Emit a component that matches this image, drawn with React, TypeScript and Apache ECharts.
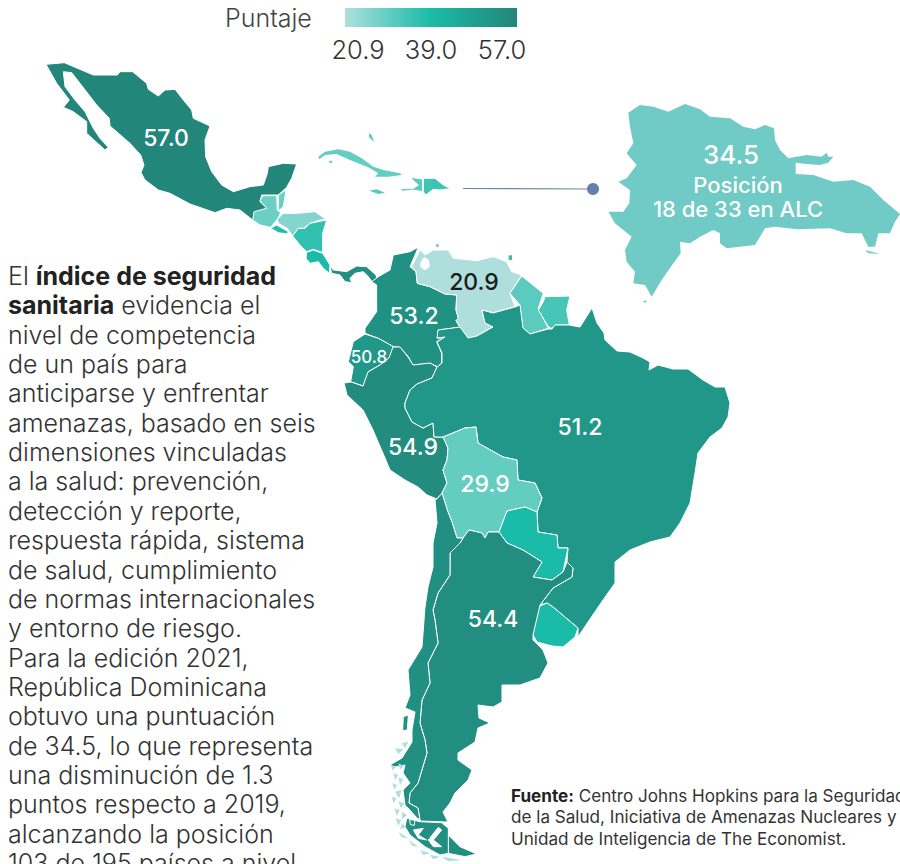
import React, { useEffect, useRef } from "react";
import * as echarts from "echarts";

type P = number[][];
// zoom-crop coordinates (3x) to page pixels
const z = (ox: number, oy: number, pts: P): P => pts.map(([x, y]) => [ox + x / 3, oy + y / 3]);

const MEXICO = z(30, 50, [[48,43],[103,38],[190,75],[262,75],[270,65],[308,65],[350,100],[355,118],[385,138],[405,120],[435,118],[460,150],[485,180],[490,205],[540,228],[525,270],[527,320],[545,365],[575,405],[610,425],[660,410],[700,405],[712,370],[715,350],[760,340],[800,342],[785,385],[770,412],[745,435],[695,435],[690,455],[712,475],[668,510],[630,480],[590,475],[555,488],[480,462],[420,430],[385,420],[345,390],[333,368],[342,345],[332,315],[300,280],[240,228],[238,205],[200,165],[150,100],[125,68],[100,65],[105,110],[135,150],[165,185],[190,235],[210,265],[235,292],[225,300],[170,250],[170,215],[130,185],[100,172],[118,150],[80,100]]);
const GUATEMALA = z(250, 130, [[38,197],[80,197],[82,240],[92,248],[82,268],[62,292],[30,285],[8,270],[12,245],[50,235],[30,212]]);
const BELIZE = z(250, 130, [[85,195],[108,180],[105,200],[100,230],[85,243]]);
const HONDURAS = z(250, 130, [[82,268],[100,250],[140,250],[195,245],[228,268],[210,270],[180,280],[160,295],[145,295],[128,318],[112,295],[85,280]]);
const EL_SALVADOR = z(250, 130, [[62,295],[80,285],[115,305],[112,312],[85,308]]);
const NICARAGUA = z(250, 130, [[128,318],[145,295],[165,295],[180,280],[230,270],[218,310],[218,368],[190,358],[170,365],[150,345]]);
const COSTA_RICA = z(250, 130, [[170,367],[190,360],[218,370],[240,405],[238,430],[220,415],[205,395],[180,400],[168,385]]);
const PANAMA = z(250, 130, [[240,408],[250,420],[290,425],[320,408],[350,410],[378,435],[382,452],[368,458],[355,440],[340,425],[315,430],[300,445],[305,458],[285,455],[270,435],[245,430]]);
const CUBA = z(250, 130, [[205,80],[225,65],[265,58],[300,65],[335,85],[370,110],[400,120],[450,130],[455,135],[415,140],[375,140],[385,130],[355,112],[300,90],[260,72],[225,75],[208,88]]);
const CUBA_ISLE = z(250, 130, [[238,92],[247,92],[245,100],[238,98]]);
const BAHAMAS = z(250, 130, [[357,10],[365,15],[372,36],[358,22]]);
const JAMAICA = z(250, 130, [[358,182],[380,178],[405,188],[385,192]]);
const HAITI = z(250, 130, [[480,142],[518,147],[518,185],[490,180],[455,184],[452,176],[490,175],[505,165]]);
const DOMINICANA = z(250, 130, [[520,145],[555,145],[580,165],[602,176],[570,180],[550,178],[527,195],[520,185]]);

const COLOMBIA = z(330, 230, [[290,38],[265,52],[240,110],[258,125],[262,160],[300,170],[345,192],[380,195],[378,240],[385,265],[378,272],[390,292],[325,300],[322,325],[345,322],[320,335],[335,370],[335,400],[322,410],[300,400],[248,405],[235,380],[210,352],[190,350],[145,325],[105,310],[105,295],[140,245],[140,165],[125,155],[145,140],[180,120],[190,75],[240,65]]);
const VENEZUELA = z(330, 230, [[270,60],[245,110],[258,125],[262,160],[300,170],[345,192],[380,195],[378,240],[385,265],[378,272],[392,295],[415,325],[440,318],[488,290],[465,280],[455,240],[490,248],[555,230],[540,190],[575,135],[545,125],[530,95],[490,80],[440,92],[370,85],[355,60],[310,60],[285,75]]);
const MARACAIBO = z(330, 230, [[272,100],[282,82],[295,90],[298,110],[285,120],[272,110]]);
const GUYANA = z(330, 230, [[575,138],[640,190],[625,235],[655,295],[600,312],[578,295],[570,225],[540,190]]);
const SURINAME = z(330, 230, [[645,200],[720,198],[710,240],[718,285],[675,285],[665,295],[655,290],[625,240],[640,215]]);
const TRINIDAD = z(330, 230, [[536,76],[546,76],[546,90],[536,90]]);
const ARUBA = z(330, 230, [[318,42],[326,42],[326,52],[318,50]]);
const ECUADOR = z(330, 230, [[105,312],[145,325],[190,350],[178,385],[150,405],[115,425],[100,468],[62,455],[70,410],[55,395],[70,335]]);
const PERU: P = [[393,347],[400,347],[408,357],[413,365],[430,363],[437,367],[432,378],[417,384],[410,390],[405,403],[405,408],[412,422],[423,428],[433,423],[434,437],[443,437],[448,448],[447,460],[443,470],[447,483],[442,493],[437,499],[427,495],[418,487],[405,480],[390,470],[385,458],[373,430],[363,410],[347,395],[344,383],[351,382],[363,386],[368,372],[380,365],[389,358]];
const BRAZIL: P = [[460,327],[468,338],[477,336],[493,327],[485,323],[482,310],[493,313],[515,307],[520,305],[523,328],[530,334],[548,329],[552,329],[555,325],[569,325],[580,327],[592,308],[597,323],[604,333],[605,340],[617,351],[630,352],[643,358],[650,362],[649,370],[658,365],[673,369],[688,369],[703,380],[715,387],[725,387],[730,403],[728,417],[722,428],[710,437],[698,453],[695,473],[690,503],[680,523],[670,537],[650,542],[630,550],[615,562],[615,583],[603,600],[588,622],[578,637],[578,628],[553,607],[547,603],[540,605],[553,588],[572,577],[573,568],[567,562],[568,548],[558,548],[557,535],[538,532],[537,512],[542,498],[535,483],[518,480],[517,460],[503,457],[478,443],[476,427],[465,428],[443,437],[434,437],[433,423],[423,428],[412,422],[405,408],[405,403],[410,390],[417,384],[432,378],[437,367],[442,363],[442,353],[437,342],[445,337],[437,338],[438,330]];
const BOLIVIA: P = [[443,437],[465,428],[476,427],[478,443],[503,457],[517,460],[518,480],[535,483],[542,498],[537,512],[525,507],[507,511],[499,532],[488,532],[485,538],[482,533],[469,530],[463,538],[457,538],[452,522],[448,512],[442,493],[447,483],[443,470],[447,460],[448,448]];
const PARAGUAY: P = [[525,507],[537,512],[538,532],[557,535],[558,548],[568,548],[563,572],[552,580],[533,577],[542,562],[523,550],[507,543],[499,532],[507,511]];
const URUGUAY: P = [[547,603],[553,607],[578,628],[575,637],[563,647],[552,646],[537,642],[533,635],[538,607]];
const ARGENTINA: P = [[469,530],[482,533],[485,538],[488,532],[499,532],[507,543],[523,550],[542,562],[533,577],[552,580],[563,572],[567,562],[573,568],[572,577],[553,588],[540,605],[533,635],[533,640],[543,650],[548,663],[540,678],[520,685],[502,685],[502,702],[493,707],[478,705],[479,718],[490,723],[478,728],[475,742],[458,753],[458,760],[472,770],[468,780],[455,793],[450,803],[443,812],[448,822],[420,821],[418,808],[409,803],[410,793],[418,783],[427,753],[425,740],[420,723],[422,700],[430,683],[428,663],[438,643],[435,620],[433,610],[438,593],[450,575],[450,553],[460,543],[463,538]];
const ARGENTINA_TDF = z(385, 740, [[190,285],[225,320],[275,342],[240,350],[190,340]]);
const CHILE: P = [[435,499],[437,523],[433,543],[433,567],[428,587],[425,607],[422,647],[408,670],[410,695],[405,708],[415,712],[412,730],[412,742],[402,758],[390,765],[395,767],[405,765],[403,773],[410,783],[403,790],[405,805],[408,808],[417,818],[420,820],[418,808],[409,803],[410,793],[418,783],[427,753],[425,740],[420,723],[422,700],[430,683],[428,663],[438,643],[435,620],[433,610],[438,593],[450,575],[450,553],[460,543],[463,538],[457,538],[452,522],[448,512],[442,493],[437,499]];
const CHILOE = z(380, 620, [[70,290],[85,285],[82,330],[68,332]]);
const CHILE_SOUTH = z(385, 740, [[65,235],[105,245],[170,248],[190,265],[190,340],[165,345],[120,320],[75,285],[60,260]]);
const FJORD_A = z(385, 740, [[85,270],[115,265],[100,285],[125,300],[100,295]]);
const FJORD_B = z(385, 740, [[130,300],[160,262],[170,270],[145,300],[170,320],[145,320]]);
const ARCHIPELAGO: P[] = [
  [[50,10],[70,5],[60,25]], [[30,25],[55,28],[40,42]], [[25,100],[40,105],[30,120]], [[40,112],[55,118],[45,135]],
  [[22,130],[36,135],[28,150]], [[30,155],[50,150],[42,175]], [[20,170],[34,175],[26,190]], [[40,185],[58,190],[48,205]],
  [[28,205],[44,210],[36,228]], [[50,215],[66,225],[52,238]], [[32,235],[48,240],[40,258]], [[52,250],[62,262],[46,268]],
  [[40,275],[70,295],[50,292]], [[72,300],[100,320],[82,318]], [[105,330],[135,340],[115,345]], [[135,345],[165,350],[145,358]],
  [[170,350],[230,360],[190,364]], [[40,70],[58,78],[45,88]], [[18,75],[32,82],[22,92]],
].map((b) => z(385, 740, b));
const CHILE_ISLETS = z(385, 740, [[74,240],[90,238],[88,256],[76,254]]);
const RD_INSET = z(590, 90, [[115,68],[150,45],[190,50],[235,65],[285,42],[330,58],[360,80],[420,85],[460,110],[495,118],[525,105],[552,115],[555,150],[570,180],[595,205],[650,195],[695,200],[710,188],[715,200],[730,200],[715,218],[690,225],[650,222],[617,218],[617,252],[670,255],[730,275],[790,270],[840,290],[880,330],[930,372],[915,395],[900,430],[865,430],[855,470],[835,470],[815,430],[770,430],[720,415],[620,418],[555,410],[525,415],[495,465],[410,475],[390,460],[390,430],[370,420],[330,440],[300,460],[270,455],[272,490],[250,520],[215,570],[185,620],[165,585],[130,580],[135,545],[110,515],[105,480],[125,440],[100,420],[75,400],[55,365],[100,365],[118,340],[120,300],[85,275],[110,265],[140,225],[110,190],[130,160],[120,110]]);
const RD_ISLET_A = z(590, 90, [[825,480],[870,492],[835,490]]);
const RD_ISLET_B = z(590, 90, [[158,635],[170,630],[168,638]]);

const COUNTRIES = ["México", "Guatemala", "Belice", "Honduras", "El Salvador", "Nicaragua", "Costa Rica", "Panamá", "Cuba", "Bahamas", "Jamaica", "Haití", "República Dominicana", "Colombia", "Venezuela", "Guyana", "Surinam", "Trinidad y Tobago", "Aruba", "Ecuador", "Perú", "Brasil", "Bolivia", "Paraguay", "Uruguay", "Argentina", "Chile", "Archipiélago chileno"];
const SCORES = [57.0, 29, 29, 26, 38, 36, 39, 54, 30, 32, 32, 31, 34.5, 53.2, 20.9, 31, 33.5, 36, 28, 50.8, 54.9, 51.2, 29.9, 39, 39, 54.4, 53.5, 20.9];
const LABELLED = ["México", "Venezuela", "Colombia", "Ecuador", "Perú", "Brasil", "Bolivia", "Argentina"];
const BORDERLESS = ["Cuba", "Bahamas", "Jamaica", "Trinidad y Tobago", "Aruba", "Archipiélago chileno"];

const LEGEND_TITLE = "Puntaje";
const LEGEND_TICKS = ["20.9", "39.0", "57.0"];
const SCALE_MIN = 20.9;
const SCALE_MAX = 57.0;
const RAMP = ["#AEDFDC", "#1ABBA8", "#23867A"];

const BODY_LINES = [
  "El {b|índice de seguridad}",
  "{b|sanitaria} evidencia el",
  "nivel de competencia",
  "de un país para",
  "anticiparse y enfrentar",
  "amenazas, basado en seis",
  "dimensiones vinculadas",
  "a la salud: prevención,",
  "detección y reporte,",
  "respuesta rápida, sistema",
  "de salud, cumplimiento",
  "de normas internacionales",
  "y entorno de riesgo.",
  "Para la edición 2021,",
  "República Dominicana",
  "obtuvo una puntuación",
  "de 34.5, lo que representa",
  "una disminución de 1.3",
  "puntos respecto a 2019,",
  "alcanzando la posición",
  "103 de 195 países a nivel",
];
const SOURCE_LINES = [
  "{b|Fuente:} Centro Johns Hopkins para la Seguridad",
  "de la Salud, Iniciativa de Amenazas Nucleares y",
  "Unidad de Inteligencia de The Economist.",
];
const INSET_SCORE = "34.5";
const INSET_NOTE = ["Posición", "18 de 33 en ALC"];

const area = (r: P) => r.reduce((s, p, i) => { const q = r[(i + 1) % r.length]; return s + p[0] * q[1] - q[0] * p[1]; }, 0);
const flip = (r: P): P => { const o = r.map(([x, y]) => [x, -y]); o.push(o[0]); return o; };
const poly = (outer: P, holes: P[] = []) => {
  const ext = area(outer) > 0 ? outer : [...outer].reverse();
  return [flip(ext), ...holes.map((h) => flip(area(h) < 0 ? h : [...h].reverse()))];
};
const feature = (name: string, cp: number[], polys: number[][][][]) => ({
  type: "Feature",
  properties: { name, cp: [cp[0], -cp[1]] },
  geometry: { type: "MultiPolygon", coordinates: polys },
});

const alc = {
  type: "FeatureCollection",
  features: [
    feature("México", [166, 138], [poly(MEXICO)]),
    feature("Guatemala", [270, 215], [poly(GUATEMALA)]),
    feature("Belice", [282, 200], [poly(BELIZE)]),
    feature("Honduras", [300, 220], [poly(HONDURAS)]),
    feature("El Salvador", [280, 230], [poly(EL_SALVADOR)]),
    feature("Nicaragua", [312, 235], [poly(NICARAGUA)]),
    feature("Costa Rica", [317, 260], [poly(COSTA_RICA)]),
    feature("Panamá", [350, 273], [poly(PANAMA)]),
    feature("Cuba", [370, 160], [poly(CUBA), poly(CUBA_ISLE)]),
    feature("Bahamas", [372, 138], [poly(BAHAMAS)]),
    feature("Jamaica", [377, 191], [poly(JAMAICA)]),
    feature("Haití", [410, 185], [poly(HAITI)]),
    feature("República Dominicana", [430, 185], [poly(DOMINICANA)]),
    feature("Colombia", [414, 316], [poly(COLOMBIA)]),
    feature("Venezuela", [474, 282], [poly(VENEZUELA, [MARACAIBO])]),
    feature("Guyana", [530, 310], [poly(GUYANA)]),
    feature("Surinam", [555, 310], [poly(SURINAME)]),
    feature("Trinidad y Tobago", [510, 258], [poly(TRINIDAD)]),
    feature("Aruba", [437, 246], [poly(ARUBA)]),
    feature("Ecuador", [369, 357], [poly(ECUADOR)]),
    feature("Perú", [413, 447], [poly(PERU)]),
    feature("Brasil", [580, 427], [poly(BRAZIL)]),
    feature("Bolivia", [485, 484], [poly(BOLIVIA)]),
    feature("Paraguay", [535, 550], [poly(PARAGUAY)]),
    feature("Uruguay", [555, 625], [poly(URUGUAY)]),
    feature("Argentina", [493, 619], [poly(ARGENTINA), poly(ARGENTINA_TDF)]),
    feature("Chile", [420, 600], [poly(CHILE), poly(CHILOE), poly(CHILE_ISLETS), poly(CHILE_SOUTH, [FJORD_A, FJORD_B])]),
    feature("Archipiélago chileno", [395, 800], ARCHIPELAGO.map((b) => poly(b))),
  ],
};
const rdMap = {
  type: "FeatureCollection",
  features: [feature("República Dominicana (detalle)", [738, 178], [poly(RD_INSET), poly(RD_ISLET_A), poly(RD_ISLET_B)])],
};

const FONT = "Inter, 'Noto Sans', sans-serif";
const BOUNDS = [[0, 0], [900, -864]];
const LAYOUT = { left: 0, top: 0, width: 900, height: 864, aspectScale: 1, boundingCoords: BOUNDS, roam: false, silent: true, selectedMode: false };

export default function App() {
  const ref = useRef<HTMLDivElement>(null);
  useEffect(() => {
    document.body.style.margin = "0";
    echarts.registerMap("alc", alc as any);
    echarts.registerMap("rd", rdMap as any);
    const chart = echarts.init(ref.current!, undefined, { renderer: "svg" });
    const graphic: any[] = [
      { type: "rect", shape: { x: 345, y: 8, width: 172, height: 19 }, style: { fill: new echarts.graphic.LinearGradient(0, 0, 1, 0, RAMP.map((color, i) => ({ offset: i / (RAMP.length - 1), color }))) } },
      { type: "line", shape: { x1: 463, y1: 188.5, x2: 593, y2: 189 }, style: { stroke: "#6F86A8", lineWidth: 1.2 } },
      { type: "circle", shape: { cx: 593, cy: 189, r: 6 }, style: { fill: "#6280AC" } },
      { type: "text", x: 225, y: 18, style: { text: LEGEND_TITLE, font: `300 25px ${FONT}`, fill: "#444", verticalAlign: "middle" } },
      ...LEGEND_TICKS.map((t, i) => ({ type: "text", x: [358, 431, 502][i], y: 49, style: { text: t, font: `300 25.5px ${FONT}`, fill: "#333", align: "center", verticalAlign: "middle" } })),
      ...BODY_LINES.map((t, i) => ({
        type: "text", x: 8, y: 276 + i * 29.35,
        style: { text: t, font: `300 25px ${FONT}`, fill: "#333", verticalAlign: "middle", rich: { b: { font: `700 25px ${FONT}`, fill: "#222" } } },
      })),
      ...SOURCE_LINES.map((t, i) => ({
        type: "text", x: 511, y: 795 + i * 21.5,
        style: { text: t, font: `400 17.1px ${FONT}`, fill: "#333", verticalAlign: "middle", rich: { b: { font: `700 17.1px ${FONT}`, fill: "#222" } } },
      })),
    ];
    chart.setOption({
      animation: false,
      visualMap: {
        type: "continuous", show: false, min: SCALE_MIN, max: SCALE_MAX, seriesIndex: 0,
        inRange: { color: RAMP },
      },
      series: [
        {
          type: "map", map: "alc", ...LAYOUT, z: 2,
          itemStyle: { borderColor: "#fff", borderWidth: 1 },
          label: { show: true, color: "#fff", fontFamily: FONT, fontSize: 23, fontWeight: 500, formatter: (p: any) => Number(p.value).toFixed(1) },
          data: COUNTRIES.map((name, i) => {
            const on = LABELLED.includes(name);
            return {
              name, value: SCORES[i],
              ...(BORDERLESS.includes(name) ? { itemStyle: { borderWidth: 0 } } : {}),
              label: { show: on, ...(name === "Venezuela" ? { color: "#1c1c1c" } : {}), ...(name === "Ecuador" ? { fontSize: 17 } : {}) },
            };
          }),
        },
        {
          type: "map", map: "rd", ...LAYOUT, z: 2,
          itemStyle: { areaColor: "#70CAC5", borderWidth: 0 },
          label: {
            show: true, color: "#fff", fontFamily: FONT, align: "center", verticalAlign: "middle",
            formatter: `{a|${INSET_SCORE}}\n{b|${INSET_NOTE[0]}}\n{b|${INSET_NOTE[1]}}`,
            rich: { a: { fontSize: 26, fontWeight: 500, color: "#fff", lineHeight: 38, fontFamily: FONT, padding: [0, 14, 0, 0] }, b: { fontSize: 22, fontWeight: 500, color: "#fff", lineHeight: 24, fontFamily: FONT } },
          },
          data: [{ name: "República Dominicana (detalle)", value: 34.5 }],
        },
      ],
      graphic,
    });
    return () => chart.dispose();
  }, []);
  return <div ref={ref} style={{ width: 900, height: 864 }} />;
}
